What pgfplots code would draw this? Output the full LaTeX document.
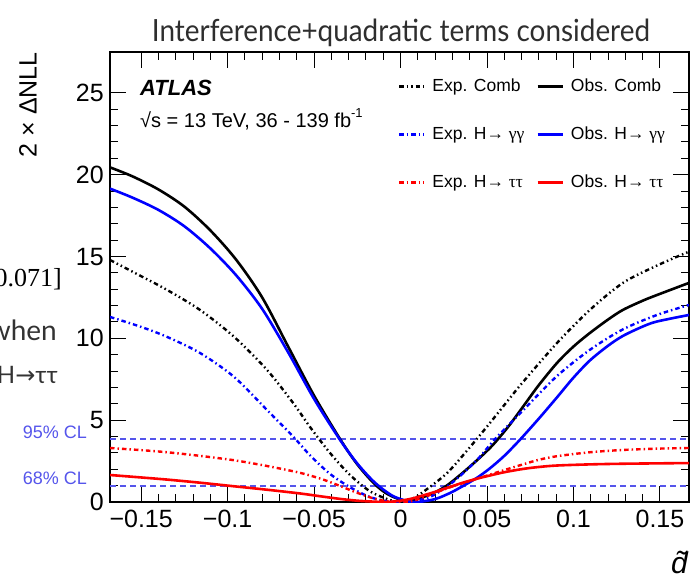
\documentclass[border=0pt]{standalone}
\usepackage{pgfplots}
\pgfplotsset{compat=1.18}
\usepackage{fontspec}
\setmainfont{Liberation Sans}
\newfontfamily\seriffont{Liberation Serif}
\newfontfamily\latofont{Lato}
\newfontfamily\dejavu{DejaVu Sans}
\definecolor{clblue}{RGB}{85,85,235}
\newcommand{\fs}[1]{\fontsize{#1bp}{#1bp}\selectfont}
\tikzset{
  expcomb/.style={black, line width=2.4bp, dash pattern=on 4.5bp off 3bp on 1.5bp off 3bp on 1.5bp off 3bp},
  expdd/.style={line width=2.4bp, dash pattern=on 4.5bp off 3bp on 1.5bp off 3bp},
  obs/.style={line width=2.6bp},
}
\begin{document}
\begin{tikzpicture}
\useasboundingbox (-110bp,-78bp) rectangle (580bp,502bp);
\clip (-110bp,-78bp) rectangle (580bp,502bp);
\begin{axis}[
  scale only axis, width=579bp, height=450bp,
  xmin=-0.168, xmax=0.1668, ymin=0, ymax=27.5,
  axis line style={line width=1.2bp},
  xtick={-0.15,-0.1,-0.05,0,0.05,0.1,0.15},
  xticklabels={−0.15,−0.1,−0.05,0,0.05,0.1,0.15},
  scaled x ticks=false,
  ytick={0,5,10,15,20,25},
  minor x tick num=4, minor y tick num=4,
  tick align=inside, tick pos=both,
  major tick length=16bp, minor tick length=8bp,
  tick style={black, line width=1bp},
  /pgf/number format/assume math mode=true,
  tick label style={font=\fs{25}},
  xticklabel style={inner sep=0pt, yshift=-8bp},
  yticklabel style={inner sep=0pt, xshift=-6bp},
  legend columns=2,
  legend cell align=left,
  legend image code/.code={\draw[#1] (0bp,0bp) -- (25bp,0bp);},
  legend style={draw=none, fill=none, font=\fs{17.5}, inner sep=0pt, outer sep=0pt,
    at={(0.4974,0.9422)}, anchor=north west,
    nodes={inner sep=0pt, text height=13bp, text depth=4bp},
    row sep=31bp, column sep=7bp,
    /tikz/every even column/.append style={column sep=12bp}},
]
\addplot[clblue, line width=1.8bp, dash pattern=on 6bp off 4bp, forget plot] coordinates {(-0.168,3.84) (0.1668,3.84)};
\addplot[clblue, line width=1.8bp, dash pattern=on 6bp off 4bp, forget plot] coordinates {(-0.168,1.0) (0.1668,1.0)};
\addplot[expcomb, smooth] coordinates {
(-0.168,14.79) (-0.15,13.8) (-0.135,12.96) (-0.116,11.74) (-0.0962,10.09) (-0.0772,8.07)
(-0.0621,6.05) (-0.0523,4.58) (-0.0408,3.0) (-0.0292,1.65) (-0.0176,0.65)
(-0.0061,0.12) (0,0.0) (0.006,0.15) (0.013,0.61) (0.0269,1.77) (0.0402,3.36) (0.0517,4.83)
(0.0633,6.36) (0.0708,7.33) (0.0905,9.72) (0.1095,11.74) (0.1286,13.39)
(0.1483,14.45) (0.1668,15.3)};
\addlegendentry{Exp. Comb}
\addplot[obs, black, smooth] coordinates {
(-0.168,20.45) (-0.155,19.9) (-0.14,19.1) (-0.125,18.05) (-0.11,16.6)
(-0.095,14.8) (-0.08,12.5) (-0.065,9.5) (-0.05,6.5) (-0.035,3.85)
(-0.025,2.3) (-0.015,1.1) (-0.007,0.45) (0.003,0.08) (0.013,0.3)
(0.02,0.6) (0.0267,1.0) (0.035,1.7) (0.0442,2.55) (0.0517,3.3) (0.0564,3.85)
(0.063,4.7) (0.071,5.85) (0.08,7.15) (0.0905,8.5) (0.1,9.5) (0.1095,10.33)
(0.12,11.15) (0.1286,11.74) (0.14,12.3) (0.1483,12.65) (0.1668,13.39)};
\addlegendentry{Obs. Comb}
\addplot[expdd, blue, smooth] coordinates {
(-0.168,11.31) (-0.15,10.7) (-0.135,10.09) (-0.116,9.11) (-0.0962,7.64) (-0.0772,5.62)
(-0.0621,4.0) (-0.0523,2.85) (-0.0408,1.72) (-0.0292,0.9) (-0.0176,0.3)
(-0.0061,0.02) (0.0055,0.06) (0.0171,0.31) (0.0303,1.22) (0.0442,2.57)
(0.0546,3.84) (0.0708,5.6) (0.0905,7.7) (0.1095,9.3) (0.1286,10.55)
(0.1483,11.43) (0.1668,12.04)};
\addlegendentry{Exp. H→ {\seriffont γγ}}
\addplot[obs, blue, smooth] coordinates {
(-0.168,19.15) (-0.155,18.6) (-0.14,17.85) (-0.125,16.85) (-0.11,15.5)
(-0.095,13.85) (-0.08,11.8) (-0.065,9.15) (-0.05,6.3) (-0.035,3.8)
(-0.025,2.35) (-0.015,1.2) (-0.005,0.4) (0.004,0.05) (0.01,0.0)
(0.02,0.18) (0.0286,0.55) (0.036,0.97) (0.0442,1.48) (0.0517,2.06) (0.06,2.82)
(0.069,3.8) (0.08,5.1) (0.0905,6.4) (0.1,7.6) (0.1095,8.65) (0.12,9.55)
(0.1286,10.15) (0.14,10.72) (0.1483,11.03) (0.1668,11.43)};
\addlegendentry{Obs. H→ {\seriffont γγ}}
\addplot[expdd, red, smooth] coordinates {
(-0.168,3.3) (-0.15,3.17) (-0.135,3.04) (-0.116,2.82) (-0.0962,2.55) (-0.0772,2.2)
(-0.058,1.78) (-0.045,1.38) (-0.035,0.98) (-0.025,0.56) (-0.015,0.2) (-0.006,0.02)
(0.005,0.03) (0.013,0.28) (0.0286,0.9) (0.0442,1.42) (0.06,1.95) (0.0708,2.3)
(0.08,2.58) (0.0905,2.8) (0.1095,3.04) (0.1286,3.18) (0.1483,3.26) (0.1668,3.3)};
\addlegendentry{Exp. H→ {\seriffont ττ}}
\addplot[obs, red, smooth] coordinates {
(-0.168,1.65) (-0.15,1.5) (-0.135,1.37) (-0.116,1.18) (-0.0962,0.96) (-0.0772,0.75)
(-0.058,0.52) (-0.045,0.33) (-0.035,0.19) (-0.025,0.08) (-0.015,0.02) (-0.008,0.0)
(0.0,0.08) (0.007,0.22) (0.013,0.4) (0.02,0.62) (0.0286,0.92) (0.036,1.18)
(0.044,1.42) (0.0517,1.62) (0.06,1.82) (0.0708,2.02) (0.08,2.14) (0.0905,2.23)
(0.11,2.3) (0.13,2.34) (0.1668,2.38)};
\addlegendentry{Obs. H→ {\seriffont ττ}}
\end{axis}
% texts
\node[anchor=base, inner sep=0pt, text=black!82] at (291bp,460bp)
  {\resizebox{498bp}{22.5bp}{\latofont Interference+quadratic terms considered}};
\node[rotate=90, anchor=east, inner sep=0pt] at (-82bp,450bp) {\fs{25}2 × ΔNLL};
\node[anchor=base west, inner sep=0pt] at (30bp,406bp) {\fs{22}\bfseries\itshape ATLAS};
\node[anchor=base west, inner sep=0pt] at (30bp,374bp)
  {\fs{20}√s = 13 TeV, 36 - 139 fb\raisebox{0.5em}{\fs{13}-1}};
\node[anchor=base east, inner sep=0pt] at (578bp,-71bp) {\fs{30}\itshape \~{d}};
\node[anchor=east, inner sep=0pt, text=clblue] at (-23bp,70bp) {\fs{18}95\% CL};
\node[anchor=east, inner sep=0pt, text=clblue] at (-23bp,24bp) {\fs{18}68\% CL};
\node[anchor=base east, inner sep=0pt] at (-48bp,215bp) {\fs{26}\seriffont 0.071]};
\node[anchor=base east, inner sep=0pt, text=black!80] at (-53bp,161bp) {\fs{28}\latofont when};
\node[anchor=base east, inner sep=0pt, text=black!80] at (-52bp,118bp) {\fs{24}\latofont H{\dejavu →}ττ};
\end{tikzpicture}
\end{document}
